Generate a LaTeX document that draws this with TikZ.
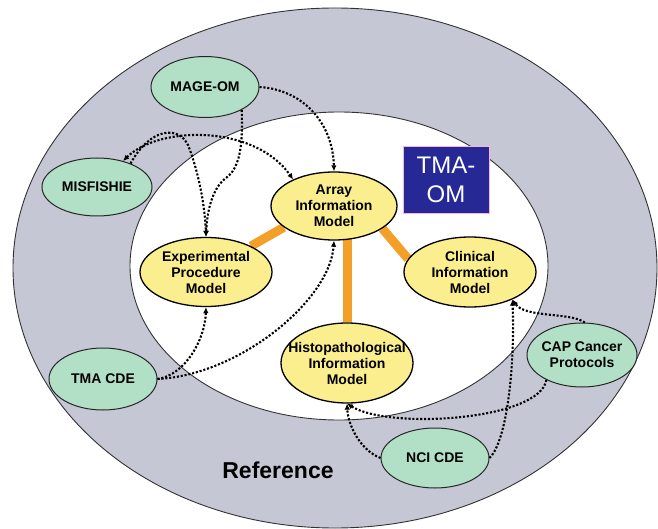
\documentclass[tikz,border=0pt]{standalone}
\usepackage{fontspec}
\setmainfont{Liberation Sans}
\usetikzlibrary{arrows.meta,shapes.geometric}
\pgfdeclarelayer{bonds}
\pgfsetlayers{bonds,main}
\definecolor{ringgray}{RGB}{198,199,212}
\definecolor{stdgreen}{RGB}{178,224,198}
\definecolor{modelyellow}{RGB}{250,238,142}
\definecolor{bondorange}{RGB}{244,160,40}
\definecolor{ombblue}{RGB}{38,40,150}
\begin{document}
\begin{tikzpicture}[x=1pt, y=-1pt,
  ring/.style={fill=ringgray, draw=black!80, line width=0.9pt},
  core/.style={fill=white, draw=black!80, line width=0.9pt},
  lbl/.style={align=center, font=\bfseries\fontsize{14}{16}\selectfont},
  std/.style={ellipse, fill=stdgreen, draw=black!85, line width=1pt, inner sep=0pt},
  model/.style={ellipse, fill=modelyellow, draw=black, line width=1.3pt, inner sep=0pt},
  bond/.style={bondorange, line width=9pt},
  link/.style={line width=2.1pt, dash pattern=on 2.1pt off 1.8pt, -{Latex[length=6pt,width=5.5pt]}},
  both/.style={link, {Latex[length=6pt,width=5.5pt]}-{Latex[length=6pt,width=5.5pt]}},
  omb/.style={fill=ombblue, draw=magenta!30, text=white, align=center, inner sep=0pt,
    minimum width=86pt, minimum height=67pt, font=\fontsize{24}{29}\selectfont}]
\useasboundingbox (0,0) rectangle (658,529);
% ---- reference ring and TMA-OM core ----
\begin{pgfonlayer}{bonds}
\fill[white] (0,0) rectangle (658,529);
\draw[ring] (335,268) ellipse [x radius=322, y radius=260];
\draw[core] (339,266) ellipse [x radius=209, y radius=154];
\end{pgfonlayer}
\node[font=\bfseries\fontsize{23}{26}\selectfont] (reftxt) at (278,470) {Reference};
\node[omb] (tmaom) at (446,179.5) {TMA-\\OM};
% ---- information models (yellow) ----
\node[model, minimum width=126pt, minimum height=68pt,
  label={[lbl]center:{Array\\Information\\Model}}] (array) at (334,206) {};
\node[model, minimum width=132pt, minimum height=69pt,
  label={[lbl]center:{Experimental\\Procedure\\Model}}] (exper) at (206,272) {};
\node[model, minimum width=132pt, minimum height=70pt,
  label={[lbl]center:{Clinical\\Information\\Model}}] (clin) at (470,272) {};
\node[model, minimum width=132pt, minimum height=80pt,
  label={[lbl]center:{Histopathological\\Information\\Model}}] (histo) at (347,363) {};
% orange bonds, behind the models
\begin{pgfonlayer}{bonds}
\draw[bond] (array.203) -- (exper.30);
\draw[bond] (histo.north) -- (histo.north |- array.center);
\draw[bond] (array.-25) -- (clin.168);
\end{pgfonlayer}
% ---- reference standards (green) ----
\node[std, minimum width=108pt, minimum height=61pt,
  label={[lbl]center:MAGE-OM}] (mage) at (205,87) {};
\node[std, minimum width=110pt, minimum height=58pt,
  label={[lbl]center:MISFISHIE}] (misfishie) at (97,187) {};
\node[std, minimum width=108pt, minimum height=62pt,
  label={[lbl]center:TMA CDE}] (tmacde) at (103,379) {};
\node[std, minimum width=110pt, minimum height=64pt,
  label={[lbl]center:{CAP Cancer\\Protocols}}] (cap) at (582,355) {};
\node[std, minimum width=108pt, minimum height=60pt,
  label={[lbl]center:NCI CDE}] (nci) at (435,458) {};
% ---- dotted links from standards into the models ----
\draw[link] (mage.east) .. controls (305,90) and (333,125) .. (array.north);
\draw[link] (mage.-32) .. controls (243,145) and (240,168) .. (226,178)
  .. controls (212,188) and (207,212) .. (exper.north);
\draw[link] (misfishie.35) .. controls (150,128) and (178,125) .. (188,145)
  .. controls (198,170) and (205,205) .. (exper.north);
\draw[both] (misfishie.45) .. controls (160,125) and (255,125) .. (array.147);
\draw[link] (tmacde.east) .. controls (185,375) and (205,340) .. (exper.south);
\draw[link] (tmacde.east) .. controls (240,375) and (330,300) .. (array.south);
\draw[link] (cap.85) .. controls (570,312) and (525,318) .. (clin.-33);
\draw[link] (cap.-145) .. controls (540,420) and (390,430) .. (histo.south);
\draw[link] (nci.west) .. controls (360,450) and (348,425) .. (histo.south);
\draw[link] (nci.east) .. controls (508,440) and (515,360) .. (clin.-33);
\end{tikzpicture}
\end{document}
